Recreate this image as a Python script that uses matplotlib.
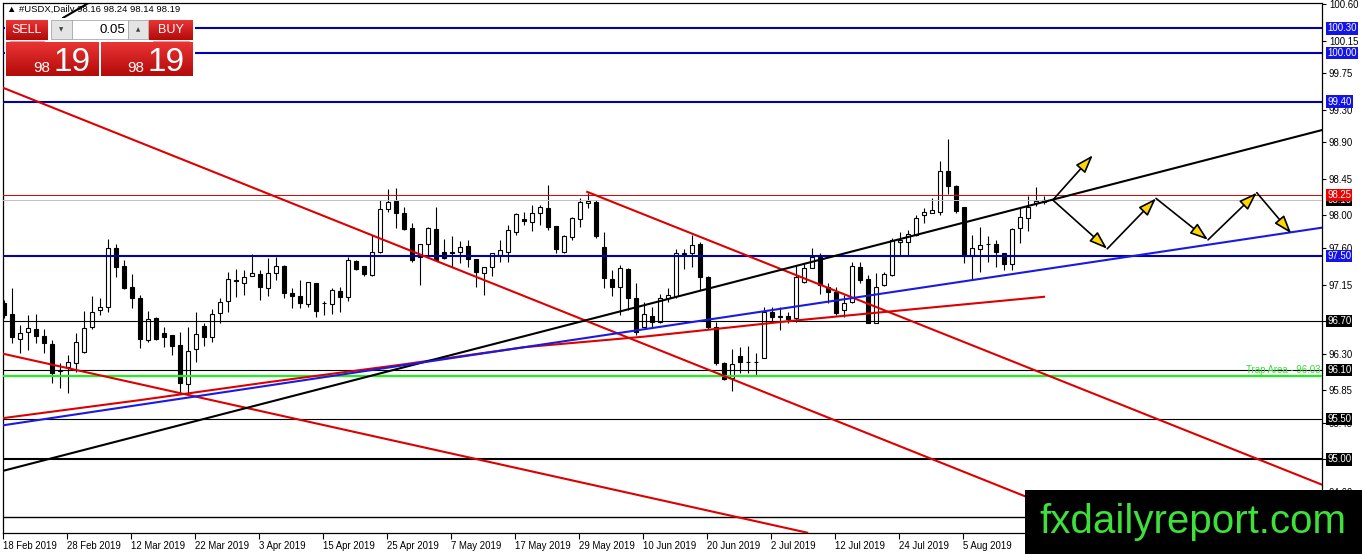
import numpy as np
import matplotlib
matplotlib.use('Agg')
import matplotlib.pyplot as plt
import matplotlib.transforms as mtransforms
from matplotlib import font_manager
from matplotlib.patches import Rectangle, FancyArrowPatch, ArrowStyle
from matplotlib.colors import LinearSegmentedColormap

plt.rcParams['font.family'] = ['Liberation Sans', 'DejaVu Sans']

# ---------------------------------------------------------------------------------------
# Data: daily candles of #USDX, 18 Feb 2019 onward (one per business day)
# ---------------------------------------------------------------------------------------

opens = [96.92, 96.79, 96.48, 96.57, 96.60, 96.52, 96.42, 96.09, 96.14, 96.18,
         96.32, 96.63, 96.84, 96.87, 97.60, 97.38, 97.12, 96.98, 96.47, 96.74,
         96.55, 96.53, 96.41, 95.93, 96.36, 96.64, 96.50, 96.80, 96.95, 97.21,
         97.17, 97.25, 97.28, 97.11, 97.29, 97.38, 97.05, 97.01, 96.91, 97.17,
         96.92, 96.91, 97.07, 97.00, 97.44, 97.38, 97.27, 97.55, 98.08, 98.18,
         98.03, 97.84, 97.49, 97.65, 97.83, 97.55, 97.55, 97.55, 97.62, 97.46,
         97.29, 97.37, 97.51, 97.55, 97.80, 97.96, 97.92, 98.03, 98.09, 97.87,
         97.55, 97.74, 97.96, 98.15, 98.17, 97.61, 97.22, 97.12, 97.34, 96.99,
         96.63, 96.76, 96.69, 96.98, 97.01, 97.53, 97.54, 97.65, 97.24, 96.63,
         96.18, 96.00, 96.27, 96.20, 96.20, 96.25, 96.81, 96.75, 96.76, 96.74,
         97.18, 97.36, 97.49, 97.12, 97.06, 96.84, 96.94, 97.37, 97.22, 96.68,
         97.14, 97.27, 97.67, 97.67, 97.76, 98.00, 98.03, 98.04, 98.55, 98.36,
         98.10, 97.50, 97.59, 97.65, 97.65, 97.54, 97.40, 97.84, 97.97, 98.15,
         98.16]

highs = [96.96, 97.11, 96.65, 96.78, 96.79, 96.60, 96.47, 96.18, 96.28, 96.55,
         96.82, 97.01, 96.99, 97.71, 97.65, 97.45, 97.28, 97.02, 96.82, 96.75,
         96.63, 96.53, 96.57, 96.63, 96.81, 96.68, 96.85, 96.98, 97.30, 97.34,
         97.33, 97.52, 97.33, 97.48, 97.49, 97.39, 97.11, 97.21, 97.18, 97.17,
         96.95, 97.11, 97.12, 97.49, 97.45, 97.38, 97.76, 98.19, 98.32, 98.34,
         98.10, 97.91, 97.65, 97.86, 98.10, 97.71, 97.75, 97.69, 97.70, 97.46,
         97.37, 97.54, 97.70, 97.88, 98.03, 98.04, 98.13, 98.13, 98.37, 97.87,
         97.76, 97.98, 98.21, 98.27, 98.19, 97.80, 97.33, 97.39, 97.35, 97.17,
         96.94, 96.87, 97.04, 97.11, 97.59, 97.59, 97.76, 97.67, 97.26, 96.69,
         96.20, 96.36, 96.38, 96.39, 96.31, 96.87, 96.87, 96.87, 96.81, 97.39,
         97.41, 97.60, 97.54, 97.17, 97.12, 97.02, 97.43, 97.43, 97.27, 97.29,
         97.30, 97.72, 97.80, 97.82, 98.00, 98.09, 98.21, 98.67, 98.94, 98.37,
         98.10, 97.76, 97.86, 97.75, 97.70, 97.54, 97.84, 98.09, 98.24, 98.35,
         98.24]

lows = [96.74, 96.43, 96.31, 96.35, 96.43, 96.31, 95.94, 95.88, 95.82, 96.07,
        96.31, 96.60, 96.78, 96.81, 97.24, 97.10, 96.86, 96.37, 96.44, 96.47,
        96.38, 96.29, 95.80, 95.80, 96.20, 96.39, 96.44, 96.68, 96.81, 97.00,
        97.02, 97.25, 96.96, 97.01, 97.21, 96.98, 96.86, 96.86, 96.87, 96.75,
        96.78, 96.79, 96.81, 96.95, 97.33, 97.25, 97.25, 97.54, 98.04, 97.85,
        97.82, 97.43, 97.14, 97.50, 97.45, 97.46, 97.37, 97.41, 97.37, 97.12,
        97.02, 97.26, 97.43, 97.43, 97.76, 97.88, 97.81, 97.88, 97.82, 97.54,
        97.54, 97.70, 97.86, 98.09, 97.72, 97.11, 97.01, 96.78, 96.84, 96.53,
        96.63, 96.63, 96.68, 96.93, 96.99, 97.34, 97.37, 97.08, 96.61, 96.16,
        95.98, 95.84, 96.06, 96.06, 96.03, 96.25, 96.69, 96.59, 96.68, 96.69,
        97.17, 97.35, 97.04, 96.92, 96.78, 96.75, 96.92, 97.17, 96.68, 96.68,
        97.13, 97.25, 97.51, 97.51, 97.75, 97.91, 98.03, 98.01, 98.26, 98.03,
        97.41, 97.21, 97.30, 97.43, 97.37, 97.33, 97.33, 97.66, 97.81, 98.12,
        98.14]

closes = [96.78, 96.50, 96.55, 96.62, 96.52, 96.43, 96.06, 96.10, 96.20, 96.44,
          96.62, 96.81, 96.87, 97.60, 97.37, 97.11, 96.99, 96.48, 96.73, 96.48,
          96.50, 96.39, 95.94, 96.33, 96.54, 96.50, 96.79, 96.94, 97.22, 97.20,
          97.24, 97.29, 97.12, 97.29, 97.38, 97.05, 97.01, 96.92, 97.18, 96.82,
          96.92, 97.08, 97.00, 97.45, 97.34, 97.28, 97.55, 98.08, 98.16, 98.03,
          97.83, 97.45, 97.65, 97.84, 97.45, 97.48, 97.54, 97.61, 97.46, 97.30,
          97.37, 97.54, 97.57, 97.82, 98.02, 97.93, 98.03, 98.10, 97.86, 97.59,
          97.75, 97.97, 98.16, 98.18, 97.75, 97.23, 97.12, 97.35, 96.99, 96.57,
          96.79, 96.69, 96.99, 97.02, 97.54, 97.54, 97.64, 97.24, 96.63, 96.18,
          95.99, 96.17, 96.20, 96.20, 96.20, 96.81, 96.75, 96.77, 96.73, 97.24,
          97.36, 97.49, 97.14, 97.06, 96.80, 96.92, 97.38, 97.21, 96.68, 97.12,
          97.28, 97.70, 97.70, 97.77, 97.97, 98.04, 98.07, 98.55, 98.36, 98.05,
          97.50, 97.60, 97.64, 97.65, 97.55, 97.40, 97.83, 97.98, 98.10, 98.18,
          98.19]

# moving average read at a few bars
ma_bars = [0, 17, 33, 50, 65, 80, 98, 115, 130]
ma_values = [95.51, 95.73, 95.95, 96.17, 96.38, 96.51, 96.70, 96.86, 97.00]

date_labels = ['18 Feb 2019', '28 Feb 2019', '12 Mar 2019', '22 Mar 2019', '3 Apr 2019',
               '15 Apr 2019', '25 Apr 2019', '7 May 2019', '17 May 2019', '29 May 2019',
               '10 Jun 2019', '20 Jun 2019', '2 Jul 2019', '12 Jul 2019', '24 Jul 2019',
               '5 Aug 2019']

price_ticks = [100.60, 100.15, 99.75, 99.30, 98.90, 98.45, 98.00, 97.60, 97.15,
               96.70, 96.30, 95.85, 95.45, 95.00, 94.60]

blue_levels = [100.30, 100.00, 99.40, 97.50]
black_levels = [96.70, 96.10, 95.50, 95.00]
extra_level = 94.29
trap_level = 96.03
red_level = 98.25
bid = 98.19

# trend lines as (bar, price) end points
black_trend = [(-0.125, 94.86), (164.75, 99.05)]
blue_trend = [(-0.125, 95.42), (164.75, 97.85)]
red_trend_a = [(-0.125, 99.57), (138.25, 94.13)]
red_trend_b = [(72.9, 98.29), (164.75, 94.69)]
red_trend_c = [(-0.125, 96.30), (100.4, 94.10)]
top_segment = [(7.4, 100.43), (11.4, 100.66)]

# projected path
arrow_start = (131.1, 98.19)
arrow_up = (136.1, 98.74)
zigzag = [(131.1, 98.19), (137.9, 97.59), (144.0, 98.21), (150.5, 97.70),
          (156.6, 98.28), (160.9, 97.78)]

title = '#USDX,Daily 98.16 98.24 98.14 98.19'

# ---------------------------------------------------------------------------------------
# Figure
# ---------------------------------------------------------------------------------------

W, H = 1362, 554
names = {f.name for f in font_manager.fontManager.ttflist}
narrow = 'Liberation Sans Narrow' if 'Liberation Sans Narrow' in names else 'Liberation Sans'

fig = plt.figure(figsize=(W / 100, H / 100), dpi=100)
fig.patch.set_facecolor('white')
ax = fig.add_axes([3 / W, 21 / H, 1319 / W, 530 / H])
ax.set_xlim(-0.125, 164.75)
ax.set_ylim(94.096, 100.612)

o = np.array(opens)
h = np.array(highs)
l = np.array(lows)
c = np.array(closes)
x = np.arange(len(o))
up = c >= o

ax.vlines(x, l, h, color='black', lw=0.8, zorder=3)
ax.bar(x[up], (c - o)[up], bottom=o[up], width=0.62, facecolor='white',
       edgecolor='black', linewidth=0.8, zorder=4)
ax.bar(x[~up], (o - c)[~up], bottom=c[~up], width=0.62, facecolor='black',
       edgecolor='black', linewidth=0.8, zorder=4)

# horizontal levels
for p in blue_levels:
    ax.axhline(p, color='#0000b0', lw=1.5, zorder=5)
for p in black_levels:
    ax.axhline(p, color='black', lw=1.5 if p == 95.00 else 0.8, zorder=5)
ax.axhline(extra_level, color='black', lw=1.0, zorder=5)
ax.axhline(trap_level, color='#22ee22', lw=1.6, zorder=5)
ax.axhline(red_level, color='#e00000', lw=0.7, zorder=5)
ax.axhline(bid, color='#c0c0c0', lw=0.7, zorder=5)
ax.text(164.6, 96.065, 'Trap Area - 96.03', ha='right', va='baseline',
        color='#33dd33', fontsize=6.9, zorder=6)

# trend lines and moving average
ax.plot(ma_bars, ma_values, color='#dd0000', lw=1.5, zorder=6)
for seg, col in [(red_trend_a, '#dd0000'), (red_trend_b, '#dd0000'), (red_trend_c, '#dd0000'),
                 (black_trend, 'black'), (blue_trend, '#1a1ae0'), (top_segment, 'black')]:
    xs, ys = zip(*seg)
    ax.plot(xs, ys, color=col, lw=1.5, zorder=6)


def seta(p0, p1):
    """Black arrow with a yellow head, MT4 style"""
    a = FancyArrowPatch(p0, p1, arrowstyle=ArrowStyle('-|>', head_length=1.1, head_width=0.38),
                        mutation_scale=10, fc='#ffd700', ec='black', lw=1.2,
                        shrinkA=0, shrinkB=0, zorder=8)
    ax.add_patch(a)


seta(arrow_start, arrow_up)
for i in range(len(zigzag) - 1):
    seta(zigzag[i], zigzag[i + 1])

# axes look
for s in ax.spines.values():
    s.set_color('black')
    s.set_linewidth(0.9)
ax.yaxis.tick_right()
ax.set_yticks(price_ticks)
ax.set_yticklabels(['%.2f' % p for p in price_ticks])
ax.tick_params(axis='y', direction='out', length=3, width=0.8, pad=2, labelsize=6.9)
ax.set_xticks(np.arange(len(date_labels)) * 8 - 0.1)
ax.set_xticklabels(date_labels)
ax.tick_params(axis='x', direction='out', length=4, width=0.8, pad=2, labelsize=6.9)
for lbl in ax.get_xticklabels():
    lbl.set_horizontalalignment('left')

# price tags on the right
trans = mtransforms.blended_transform_factory(ax.transAxes, ax.transData)


def etiqueta(p, fc):
    ax.text(1 + 5 / 1319, p, '%.2f' % p, transform=trans, ha='left', va='center',
            fontsize=6.9, color='white', clip_on=False, zorder=10,
            bbox=dict(boxstyle='square,pad=0.12', fc=fc, ec='none'))


for p in blue_levels:
    etiqueta(p, '#1414e6')
for p in black_levels:
    etiqueta(p, 'black')
etiqueta(bid, 'black')
etiqueta(red_level, '#ee0000')

ax.text(4 / 1319, 0.9868, '\u25b2 ' + title, transform=ax.transAxes, ha='left', va='center',
        fontsize=6.8, color='black', zorder=1)

# ---------------------------------------------------------------------------------------
# Overlay: trade panel and watermark (pixel coordinates)
# ---------------------------------------------------------------------------------------

ov = fig.add_axes([0, 0, 1, 1], zorder=20)
ov.axis('off')
red_cmap = LinearSegmentedColormap.from_list('btn', ['#ea3434', '#b30a0a'])


def caixa_vermelha(x0, y0, x1, y1):
    ov.imshow(np.linspace(0, 1, 60).reshape(-1, 1), cmap=red_cmap, aspect='auto',
              origin='upper', extent=(x0, x1, y1, y0), zorder=2)


ov.add_patch(Rectangle((5, 18), 190, 60, fc='white', ec='none', zorder=1))
caixa_vermelha(6, 20, 48, 40)
caixa_vermelha(149, 20, 193, 40)
caixa_vermelha(6, 42, 99, 76)
caixa_vermelha(101, 42, 193, 76)
ov.add_patch(Rectangle((51, 20), 21, 19, fc='#e4e4e4', ec='#a8a8a8', lw=0.6, zorder=2))
ov.add_patch(Rectangle((72, 20), 56, 19, fc='white', ec='#a8a8a8', lw=0.6, zorder=2))
ov.add_patch(Rectangle((128, 20), 20, 19, fc='#e4e4e4', ec='#a8a8a8', lw=0.6, zorder=2))
ov.plot([10, 44], [40.5, 40.5], color='#f08080', lw=0.6, zorder=3)
ov.plot([153, 189], [40.5, 40.5], color='#f08080', lw=0.6, zorder=3)

ov.text(27, 30, 'SELL', ha='center', va='center', color='white', fontsize=9,
        family=[narrow, 'DejaVu Sans'], zorder=4)
ov.text(171, 30, 'BUY', ha='center', va='center', color='white', fontsize=9,
        family=[narrow, 'DejaVu Sans'], zorder=4)
ov.text(125, 30, '0.05', ha='right', va='center', color='black', fontsize=9.5,
        family=[narrow, 'DejaVu Sans'], zorder=4)
ov.text(61.5, 30, '\u25bc', ha='center', va='center', color='#404040', fontsize=4,
        family='DejaVu Sans', zorder=4)
ov.text(138, 30, '\u25b2', ha='center', va='center', color='#404040', fontsize=4,
        family='DejaVu Sans', zorder=4)
for xs, xb in [(50, 53), (144, 148)]:
    ov.text(xs, 72, '98', ha='right', va='baseline', color='white', fontsize=11,
            family=[narrow, 'DejaVu Sans'], zorder=4)
    ov.text(xb, 71, '19', ha='left', va='baseline', color='white', fontsize=24,
            family=[narrow, 'DejaVu Sans'], zorder=4)

# watermark
ov.add_patch(Rectangle((1025, 490), W - 1025, H - 490, fc='black', ec='none', zorder=5))
ov.text(1193, 522, 'fxdailyreport.com', ha='center', va='center', color='#3ee03a',
        fontsize=29, zorder=6)

ov.set_xlim(0, W)
ov.set_ylim(H, 0)

fig.savefig('out.png', dpi=100)
